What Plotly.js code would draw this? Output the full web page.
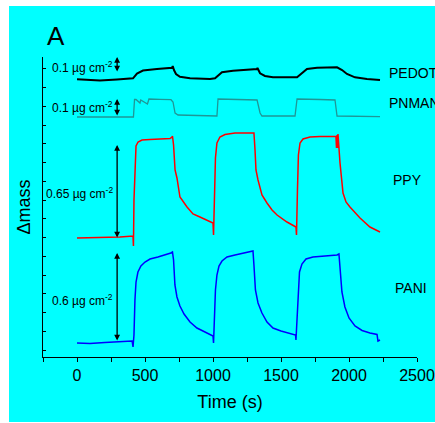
<!DOCTYPE html>
<html>
<head>
<meta charset="utf-8">
<script src="https://cdn.plot.ly/plotly-3.0.1.min.js"></script>
<style>
  html, body { margin: 0; padding: 0; background: #ffffff; }
  #chart { position: absolute; left: 9px; top: 6px; width: 426px; height: 416px; }
</style>
</head>
<body>
<div id="chart"></div>
<script>
// Time in seconds; Δmass in arbitrary units (traces offset vertically as in the figure)
const pedotTime = [0, 169, 294, 412, 441, 485, 588, 699, 704, 713, 728, 757, 831, 904, 978, 1015, 1029, 1066, 1147, 1324, 1327, 1346, 1382, 1441, 1618, 1640, 1691, 1765, 1912, 1949, 1985, 2044, 2132, 2228];
const pedotMass = [277.7, 276.5, 277.5, 278.7, 283.5, 286.5, 288, 289.3, 291, 287, 283, 280.3, 278.7, 278.5, 278, 278.7, 280.3, 284.7, 286.3, 288, 289, 283.7, 281, 279.7, 279.7, 282, 288, 289.3, 289.7, 287, 283, 279.7, 278, 277];

const pnmanTime = [0, 415, 423, 434, 463, 469, 518, 529, 610, 691, 706, 721, 743, 868, 1029, 1037, 1162, 1324, 1346, 1360, 1603, 1618, 1787, 1897, 1912, 2081, 2228];
const pnmanMass = [240, 240, 257.5, 257.5, 254, 257, 253, 258, 257.7, 257.3, 255, 244, 242, 241.5, 241, 258, 257.5, 257, 244, 241, 241, 258, 257.5, 257, 241, 240.5, 240.3];

const ppyTime = [0, 169, 316, 412, 415, 419, 426, 434, 449, 478, 537, 610, 684, 699, 702, 710, 721, 735, 757, 809, 853, 904, 956, 1000,
                 1004, 1011, 1018, 1029, 1051, 1088, 1162, 1235, 1294, 1301, 1309, 1316, 1331, 1360, 1397, 1434, 1471, 1544, 1610,
                 1614, 1621, 1628, 1640, 1662, 1713, 1787, 1904, 1908, 1912, 1915, 1919, 1934, 1956, 1978, 2007, 2044, 2081, 2154, 2228];
const ppyMass = [119, 119.5, 120, 121, 111, 157, 197, 211, 215, 217, 217.5, 218, 218.5, 220, 221, 212, 187, 179, 160, 150, 143, 140, 136.5, 134,
                 122, 162, 199, 214, 220, 222.5, 224, 224, 224.5, 224, 207, 187, 177, 162, 154, 147, 142, 135, 130,
                 122, 167, 202, 214, 218, 220, 220.5, 220.5, 209, 222, 209, 223, 194, 164, 155, 150, 144, 139, 130, 125];

const paniTime = [0, 95, 205, 315, 405, 412, 419, 426, 434, 448, 470, 500, 537, 595, 647, 690, 702, 710, 720, 735, 757, 787, 831, 882, 941, 993, 1000,
                  1004, 1011, 1018, 1029, 1044, 1066, 1103, 1162, 1235, 1287, 1294, 1301, 1312, 1331, 1360, 1397, 1441, 1500, 1566, 1607,
                  1610, 1618, 1625, 1636, 1654, 1684, 1735, 1823, 1912, 1926, 1934, 1948, 1970, 2000, 2044, 2096, 2154, 2206, 2213, 2228];
const paniMass = [14, 13.5, 14.5, 15, 16, 10, 22, 57, 75, 85, 91, 95, 98, 100, 102, 104, 105, 97, 72, 60, 51, 43, 35, 29, 25, 22, 21,
                  14, 37, 67, 82, 91, 96, 100, 102, 104, 106, 106, 92, 67, 54, 44, 35, 29, 26, 23.5, 22,
                  17, 37, 67, 85, 93, 98, 100, 101, 102, 103, 89, 65, 50, 39, 31, 26.5, 24, 22.5, 16, 17];

const seriesNames = ["PEDOT", "PNMAN", "PPY", "PANI"];
const scaleLabels = ["0.1 µg cm<sup>-2</sup>", "0.1 µg cm<sup>-2</sup>", "0.65 µg cm<sup>-2</sup>", "0.6 µg cm<sup>-2</sup>"];
// scale bars: [time, bottom, top]
const scaleBarTime = 295;
const scaleBarBottom = [284, 240, 118, 15];
const scaleBarTop = [300, 258, 212, 104];
const scaleLabelY = [290, 250, 164, 57];

const xTickVals = [0, 500, 1000, 1500, 2000, 2500];

const FONT = "Arial, 'Liberation Sans', sans-serif";

const traces = [
  {x: pedotTime, y: pedotMass, mode: 'lines', line: {color: '#000000', width: 2}, name: 'PEDOT'},
  {x: pnmanTime, y: pnmanMass, mode: 'lines', line: {color: '#1f9696', width: 1.3}, name: 'PNMAN'},
  {x: ppyTime, y: ppyMass, mode: 'lines', line: {color: '#ff0000', width: 1.5}, name: 'PPY'},
  {x: paniTime, y: paniMass, mode: 'lines', line: {color: '#0000ff', width: 1.5}, name: 'PANI'}
];

const labelPos = [[0.920, 0.947], [0.920, 0.847], [0.930, 0.59], [0.936, 0.23]];

const annotations = [];
seriesNames.forEach((n, i) => {
  annotations.push({xref: 'paper', yref: 'paper', x: labelPos[i][0], y: labelPos[i][1], text: n,
    showarrow: false, xanchor: 'left', yanchor: 'middle', font: {family: FONT, size: 14, color: '#000'}});
  annotations.push({xref: 'x', yref: 'y', x: scaleBarTime, y: scaleBarTop[i], ax: scaleBarTime, ay: scaleBarBottom[i],
    axref: 'x', ayref: 'y', text: '', showarrow: true, arrowside: 'end+start', arrowhead: 2, arrowsize: 0.9,
    arrowwidth: 1.3, arrowcolor: '#000', standoff: 0, startstandoff: 0});
  annotations.push({xref: 'x', yref: 'y', x: 278, y: scaleLabelY[i], text: scaleLabels[i], showarrow: false,
    xanchor: 'right', yanchor: 'middle', font: {family: FONT, size: 12, color: '#000'}});
});
annotations.push({xref: 'paper', yref: 'paper', x: 0.005, y: 1.07, text: 'A', showarrow: false,
  xanchor: 'left', yanchor: 'middle', font: {family: FONT, size: 26, color: '#000'}});

const layout = {
  width: 426, height: 416,
  margin: {l: 34, r: 18, t: 51, b: 65, pad: 0},
  paper_bgcolor: '#00ffff', plot_bgcolor: '#00ffff',
  showlegend: false,
  font: {family: FONT, color: '#000'},
  xaxis: {
    range: [-250, 2500], tickvals: xTickVals, ticks: 'outside', ticklen: 4, tickwidth: 1, tickcolor: '#000',
    showline: true, linecolor: '#000', linewidth: 1, showgrid: false, zeroline: false,
    tickfont: {family: FONT, size: 16, color: '#000'},
    minor: {dtick: 250, tick0: -250, ticks: 'outside', ticklen: 4, tickcolor: '#000', showgrid: false},
    title: {text: 'Time (s)', font: {family: FONT, size: 18, color: '#000'}, standoff: 12}
  },
  yaxis: {
    range: [0, 300], showticklabels: false, ticks: 'inside', ticklen: 3, tickcolor: '#000',
    tick0: 7, dtick: 18.75,
    showline: true, linecolor: '#000', linewidth: 1, showgrid: false, zeroline: false,
    title: {text: 'Δmass', font: {family: FONT, size: 18, color: '#000'}, standoff: 6}
  },
  annotations: annotations
};

Plotly.newPlot('chart', traces, layout, {displayModeBar: false, staticPlot: true});
</script>
</body>
</html>
